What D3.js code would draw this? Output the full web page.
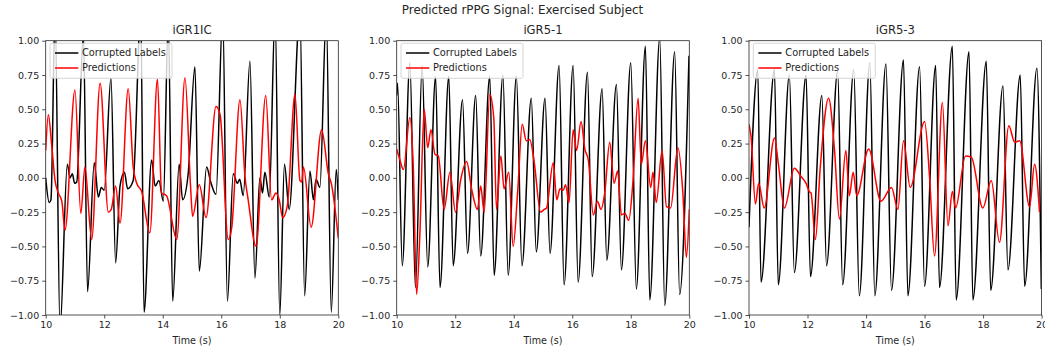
<!DOCTYPE html>
<html>
<head>
<meta charset="utf-8">
<script src="https://cdn.jsdelivr.net/npm/d3@7/dist/d3.min.js"></script>
<style>
  body { margin: 0; background: #fff; }
  svg text { font-family: "DejaVu Sans", sans-serif; fill: #262626; }
</style>
</head>
<body>
<div id="chart"></div>
<script>
// values: [time (s), signal]
const xTicks = [10, 12, 14, 16, 18, 20];
const yTicks = [-1, -0.75, -0.5, -0.25, 0, 0.25, 0.5, 0.75, 1];
const panelTitles = ["iGR1IC", "iGR5-1", "iGR5-3"];
const seriesNames = ["Corrupted Labels", "Predictions"];

const igr1icLabels = [
  [10.0, 0.0], [10.12, -0.18], [10.18, -0.16], [10.32, 1.2], [10.49, -1.1], [10.74, 0.1],
  [10.83, 0.0], [10.91, 0.03], [10.99, -0.04], [11.06, -0.03], [11.29, 1.05], [11.43, -0.83],
  [11.66, 0.11], [11.8, -0.14], [11.9, -0.07], [12.0, -0.09], [12.23, 0.73], [12.39, -0.62],
  [12.54, -0.06], [12.69, 0.04], [12.8, -0.08], [12.99, -0.02], [13.25, 1.2], [13.36, -0.98],
  [13.62, 0.13], [13.74, -0.06], [13.87, -0.02], [14.02, -0.17], [14.19, 1.15], [14.34, -0.9],
  [14.56, 0.1], [14.68, -0.16], [14.87, 0.03], [15.1, 0.81], [15.25, -0.68], [15.5, 0.08],
  [15.64, -0.03], [15.82, -0.12], [16.05, 1.2], [16.21, -0.9], [16.41, 0.03], [16.55, -0.04],
  [16.63, -0.01], [16.75, -0.13], [16.98, 0.85], [17.15, -0.73], [17.32, 0.0], [17.41, -0.11],
  [17.49, 0.04], [17.64, -0.14], [17.84, 1.2], [18.0, -1.0], [18.16, 0.1], [18.32, -0.23],
  [18.69, 1.2], [18.85, -0.86], [19.03, 0.05], [19.15, -0.16], [19.24, -0.01], [19.37, -0.07],
  [19.59, 1.2], [19.76, -0.98], [19.93, 0.06], [20.0, -0.16]
];
const igr1icPreds = [
  [10.0, 0.2], [10.09, 0.46], [10.2, 0.25], [10.32, -0.02], [10.43, -0.11], [10.55, -0.17],
  [10.66, -0.38], [11.0, 0.64], [11.2, -0.26], [11.34, 0.08], [11.57, -0.45], [11.86, 0.69],
  [12.14, -0.25], [12.24, -0.23], [12.39, -0.06], [12.54, -0.33], [12.82, 0.65], [12.99, 0.08],
  [13.11, -0.04], [13.28, -0.1], [13.56, -0.4], [13.82, 0.72], [13.96, -0.11], [14.13, -0.13],
  [14.48, -0.45], [14.76, 0.73], [14.95, -0.06], [15.02, -0.28], [15.25, -0.05], [15.48, -0.29],
  [15.82, 0.52], [15.96, 0.46], [16.24, -0.45], [16.36, -0.36], [16.64, 0.57], [16.81, 0.01],
  [16.92, -0.16], [17.19, -0.5], [17.52, 0.6], [17.72, -0.16], [17.87, -0.11], [17.98, -0.16],
  [18.1, -0.29], [18.26, -0.2], [18.52, 0.61], [18.69, -0.02], [18.75, -0.03], [18.81, 0.08],
  [19.07, -0.36], [19.43, 0.35], [19.66, 0.03], [19.77, -0.05], [20.0, -0.44]
];

const igr51Labels = [
  [10.0, 0.6], [10.03, 0.69], [10.19, -0.64], [10.45, 0.84], [10.64, -0.8], [10.87, 0.82],
  [11.06, -0.65], [11.33, 0.74], [11.48, -0.8], [11.78, 0.74], [11.93, -0.64], [12.25, 0.57],
  [12.42, -0.55], [12.7, 0.6], [12.87, -0.57], [13.18, 0.74], [13.33, -0.71], [13.63, 0.75],
  [13.81, -0.71], [14.09, 0.74], [14.28, -0.64], [14.6, 0.58], [14.77, -0.54], [15.07, 0.58],
  [15.24, -0.55], [15.55, 0.82], [15.72, -0.78], [16.03, 0.82], [16.2, -0.76], [16.52, 0.77],
  [16.68, -0.72], [17.02, 0.65], [17.18, -0.6], [17.51, 0.68], [17.68, -0.67], [18.0, 0.84],
  [18.19, -0.81], [18.5, 0.96], [18.65, -0.89], [18.99, 1.02], [19.16, -0.93], [19.5, 0.92],
  [19.67, -0.85], [19.99, 0.89]
];
const igr51Preds = [
  [10.0, 0.21], [10.11, 0.13], [10.23, 0.06], [10.45, 0.44], [10.57, 0.06], [10.68, -0.85],
  [10.79, -0.42], [10.94, 0.5], [11.06, 0.22], [11.17, 0.35], [11.31, 0.17], [11.42, 0.16],
  [11.62, -0.23], [11.82, 0.04], [12.01, -0.25], [12.19, -0.01], [12.39, 0.12], [12.56, -0.08],
  [12.76, -0.23], [12.87, -0.06], [12.99, -0.25], [13.18, 0.61], [13.32, 0.43], [13.41, -0.23],
  [13.56, 0.16], [13.67, -0.08], [13.83, 0.04], [13.98, -0.5], [14.14, -0.08], [14.29, 0.39],
  [14.43, 0.27], [14.55, 0.28], [14.69, 0.13], [14.92, -0.25], [15.04, -0.23], [15.12, -0.22],
  [15.35, 0.11], [15.47, -0.16], [15.58, -0.08], [15.69, -0.09], [15.77, -0.05], [15.89, -0.18],
  [16.03, 0.35], [16.15, 0.2], [16.3, 0.41], [16.43, 0.21], [16.55, 0.13], [16.72, -0.27],
  [16.86, -0.17], [16.98, -0.23], [17.11, -0.11], [17.28, 0.26], [17.43, -0.04], [17.55, 0.05],
  [17.68, -0.27], [17.8, -0.26], [17.93, -0.31], [18.08, -0.01], [18.25, 0.58], [18.36, 0.1],
  [18.5, 0.27], [18.68, -0.07], [18.76, 0.04], [18.87, -0.18], [19.07, 0.2], [19.22, -0.21],
  [19.36, -0.22], [19.61, 0.22], [19.78, -0.11], [19.9, -0.58], [20.0, -0.23]
];

const igr53Labels = [
  [10.0, -0.36], [10.3, 0.79], [10.41, -0.76], [10.87, 0.79], [11.0, -0.78], [11.38, 0.75],
  [11.55, -0.69], [11.95, 0.75], [12.1, -0.72], [12.49, 0.6], [12.65, -0.64], [13.03, 0.78],
  [13.2, -0.78], [13.58, 0.79], [13.77, -0.86], [14.13, 0.84], [14.3, -0.86], [14.68, 0.83],
  [14.87, -0.82], [15.28, 0.86], [15.43, -0.86], [15.83, 0.81], [16.0, -0.79], [16.38, 0.82],
  [16.51, -0.8], [16.95, 0.96], [17.08, -0.89], [17.52, 0.92], [17.65, -0.89], [18.11, 0.85],
  [18.26, -0.82], [18.68, 0.67], [18.85, -0.67], [19.27, 0.75], [19.42, -0.79], [19.84, 0.8],
  [19.99, -0.81]
];
const igr53Preds = [
  [10.0, 0.39], [10.07, 0.3], [10.22, -0.19], [10.33, -0.04], [10.52, -0.22], [10.87, 0.29],
  [11.01, 0.09], [11.21, -0.22], [11.55, 0.07], [11.78, 0.01], [11.95, -0.04], [12.06, -0.1],
  [12.12, -0.11], [12.27, -0.45], [12.43, 0.06], [12.72, 0.58], [12.92, 0.21], [13.09, -0.3],
  [13.31, 0.2], [13.43, -0.13], [13.56, 0.04], [13.68, -0.13], [14.09, 0.21], [14.51, -0.17],
  [14.87, -0.07], [15.09, -0.23], [15.28, 0.27], [15.51, -0.07], [16.0, 0.41], [16.17, 0.01],
  [16.34, -0.57], [16.61, 0.55], [16.8, -0.35], [16.95, -0.1], [17.06, -0.22], [17.4, 0.16],
  [17.6, 0.15], [17.99, -0.22], [18.28, -0.02], [18.56, -0.47], [18.88, 0.38], [19.08, 0.26],
  [19.25, 0.27], [19.59, -0.21], [19.76, 0.1], [19.93, -0.25]
];

const panelLabels = [igr1icLabels, igr51Labels, igr53Labels];
const panelPreds = [igr1icPreds, igr51Preds, igr53Preds];

const W = 1045, H = 349;
const lefts = [45.7, 396.7, 749];
const plotW = 292.6, plotTop = 40.7, plotH = 274.3;

const svg = d3.select("#chart").append("svg")
  .attr("width", W).attr("height", H);

svg.append("text")
  .attr("x", W / 2).attr("y", 14.2)
  .attr("text-anchor", "middle")
  .style("font-size", "11.9px")
  .text("Predicted rPPG Signal: Exercised Subject");

const x = d3.scaleLinear().domain([10, 20]).range([0, plotW]);
const y = d3.scaleLinear().domain([-1, 1]).range([plotH, 0]);

const line = d3.line()
  .curve(d3.curveMonotoneX)
  .x(d => x(d[0]))
  .y(d => y(d[1]));

panelTitles.forEach((title, i) => {
  const g = svg.append("g").attr("transform", "translate(" + lefts[i] + "," + plotTop + ")");

  g.append("clipPath").attr("id", "clip" + i)
    .append("rect").attr("width", plotW).attr("height", plotH);

  const xa = g.append("g")
    .attr("transform", "translate(0," + plotH + ")")
    .call(d3.axisBottom(x).tickValues(xTicks).tickSize(3.5).tickPadding(3));
  const ya = g.append("g")
    .call(d3.axisLeft(y).tickValues(yTicks).tickFormat(d3.format(".2f")).tickSize(3.5).tickPadding(3));
  [xa, ya].forEach(a => {
    a.select(".domain").remove();
    a.selectAll("line").attr("stroke", "#262626").attr("stroke-width", 0.8);
    a.selectAll("text").style("font-size", "9.5px").attr("fill", "#262626");
  });

  const plot = g.append("g").attr("clip-path", "url(#clip" + i + ")");
  plot.append("path").datum(panelLabels[i])
    .attr("d", line).attr("fill", "none")
    .attr("stroke", "#000").attr("stroke-width", 1.5);
  plot.append("path").datum(panelPreds[i])
    .attr("d", line).attr("fill", "none")
    .attr("stroke", "#ff0000").attr("stroke-width", 1.5);

  g.append("rect")
    .attr("width", plotW).attr("height", plotH)
    .attr("fill", "none").attr("stroke", "#262626").attr("stroke-width", 0.8);

  g.append("text")
    .attr("x", plotW / 2).attr("y", -6.5)
    .attr("text-anchor", "middle")
    .style("font-size", "11.6px")
    .text(title);

  g.append("text")
    .attr("x", plotW / 2).attr("y", plotH + 28.8)
    .attr("text-anchor", "middle")
    .style("font-size", "9.6px")
    .text("Time (s)");

  // legend
  const lg = g.append("g").attr("transform", "translate(4.3,2.6)");
  lg.append("rect")
    .attr("width", 122).attr("height", 35).attr("rx", 2)
    .attr("fill", "#fff").attr("fill-opacity", 0.8)
    .attr("stroke", "#cccccc").attr("stroke-width", 0.8);
  const colors = ["#000", "#ff0000"];
  seriesNames.forEach((name, j) => {
    const ly = 9.7 + j * 15;
    lg.append("line")
      .attr("x1", 5).attr("x2", 28.3).attr("y1", ly).attr("y2", ly)
      .attr("stroke", colors[j]).attr("stroke-width", 1.5);
    lg.append("text")
      .attr("x", 32).attr("y", ly + 3.5)
      .style("font-size", "9.8px")
      .text(name);
  });
});
</script>
</body>
</html>
